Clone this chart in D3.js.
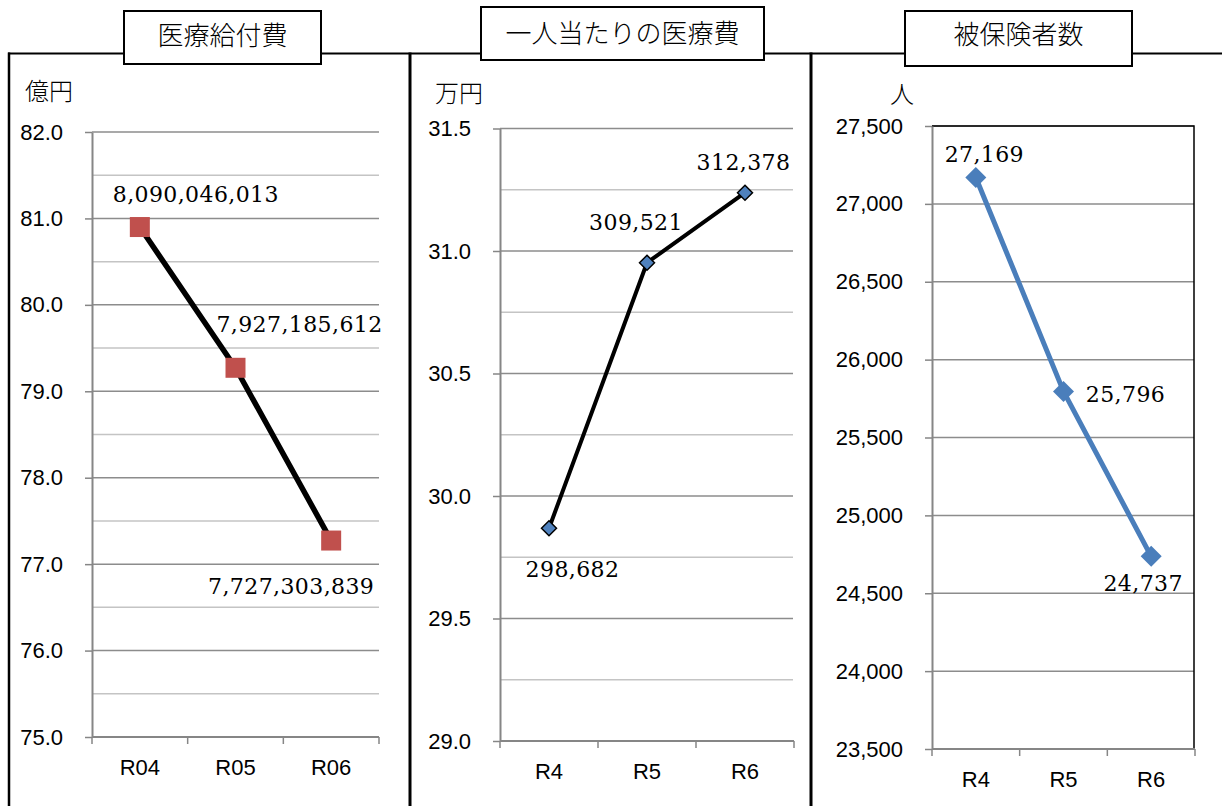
<!DOCTYPE html>
<html>
<head>
<meta charset="utf-8">
<script src="https://cdn.jsdelivr.net/npm/d3@7"></script>
<style>
  html, body { margin: 0; padding: 0; background: #fff; }
  svg { display: block; }
</style>
</head>
<body>
<svg id="chart" width="1222" height="806"></svg>
<script>
// ---- data ----
const fiscalYearsA = ["R04", "R05", "R06"];
const fiscalYearsB = ["R4", "R5", "R6"];

const medicalBenefitYen = [8090046013, 7927185612, 7727303839]; // 医療給付費 (円)
const costPerInsuredYen = [298682, 309521, 312378];             // 一人当たりの医療費 (円)
const insuredPersons = [27169, 25796, 24737];                    // 被保険者数 (人)

const benefitTicks = [75, 76, 77, 78, 79, 80, 81, 82];           // 億円
const benefitMinorTicks = [75.5, 76.5, 77.5, 78.5, 79.5, 80.5, 81.5];
const perInsuredTicks = [29.0, 29.5, 30.0, 30.5, 31.0, 31.5];    // 万円
const perInsuredMinorTicks = [29.25, 29.75, 30.25, 30.75, 31.25];
const insuredTicks = [23500, 24000, 24500, 25000, 25500, 26000, 26500, 27000, 27500];

const panelTitles = ["医療給付費", "一人当たりの医療費", "被保険者数"];
const unitLabels = ["億円", "万円", "人"];

// ---- styling ----
const AXIS_GRAY = "#868686";
const GRID_MAJOR = "#8c8c8c";
const GRID_MINOR = "#c4c4c4";
const SANS = "'Liberation Sans', Arial, sans-serif";
const SERIF = "'DejaVu Serif', 'Liberation Serif', serif";
const CJK = "'Noto Sans CJK JP', 'Noto Sans', sans-serif";

const svg = d3.select("#chart");
const fmt = d3.format(",");

// ---- outer frame ----
const frame = svg.append("g").attr("fill", "none").attr("stroke", "#000");
frame.append("line").attr("x1", 8).attr("x2", 1222).attr("y1", 53.5).attr("y2", 53.5).attr("stroke-width", 2);
frame.append("line").attr("x1", 9).attr("x2", 9).attr("y1", 52.5).attr("y2", 806).attr("stroke-width", 2.5);
frame.append("line").attr("x1", 410).attr("x2", 410).attr("y1", 52.5).attr("y2", 806).attr("stroke-width", 3);
frame.append("line").attr("x1", 811).attr("x2", 811).attr("y1", 52.5).attr("y2", 806).attr("stroke-width", 3);

// ---- panel definitions ----
const panels = [
  {
    title: panelTitles[0], unit: unitLabels[0],
    titleBox: [124, 11, 197, 53], titleY: 33,
    unitX: 25, unitY: 89,
    cats: fiscalYearsA,
    raw: medicalBenefitYen, scaleDiv: 1e8,
    domain: [75, 82], ticks: benefitTicks, minor: benefitMinorTicks,
    tickFmt: d3.format(".1f"),
    xRange: [92, 379], yRange: [737, 132], gridEnd: 379,
    line: { color: "#000", width: 5.5 },
    marker: "square", markerR: 10, markerFill: "#c0504d", markerStroke: null,
    labelOffsets: [[56, -25], [64, -36], [-40, 53]],
    boxed: false
  },
  {
    title: panelTitles[1], unit: unitLabels[1],
    titleBox: [481, 7, 283, 53], titleY: 31,
    unitX: 435, unitY: 91,
    cats: fiscalYearsB,
    raw: costPerInsuredYen, scaleDiv: 1e4,
    domain: [29, 31.5], ticks: perInsuredTicks, minor: perInsuredMinorTicks,
    tickFmt: d3.format(".1f"),
    xRange: [500, 794], yRange: [741, 128.5], gridEnd: 793,
    line: { color: "#000", width: 4 },
    marker: "diamond", markerR: 7.5, markerFill: "#4f81bd", markerStroke: "#000",
    labelOffsets: [[23.5, 49], [-11, -33], [-1.5, -23]],
    boxed: false
  },
  {
    title: panelTitles[2], unit: unitLabels[2],
    titleBox: [905, 11, 227, 55], titleY: 32,
    unitX: 890, unitY: 92,
    cats: fiscalYearsB,
    raw: insuredPersons, scaleDiv: 1,
    domain: [23500, 27500], ticks: insuredTicks, minor: [],
    tickFmt: d3.format(","),
    xRange: [932, 1195], yRange: [749, 126], gridEnd: 1194,
    line: { color: "#4a7ebb", width: 5 },
    marker: "diamond", markerR: 10.5, markerFill: "#4a7ebb", markerStroke: null,
    labelOffsets: [[8.5, -16], [62, 11], [-8, 35]],
    boxed: true
  }
];

panels.forEach(p => {
  const g = svg.append("g");
  const values = p.raw.map(v => v / p.scaleDiv);

  const x = d3.scaleBand().domain(p.cats).range(p.xRange).paddingInner(0).paddingOuter(0);
  const y = d3.scaleLinear().domain(p.domain).range(p.yRange);
  const axisX = p.xRange[0];
  const axisY = p.yRange[0];

  // minor gridlines
  g.append("g").selectAll("line").data(p.minor).join("line")
    .attr("x1", axisX).attr("x2", p.gridEnd)
    .attr("y1", d => y(d)).attr("y2", d => y(d))
    .attr("stroke", GRID_MINOR).attr("stroke-width", 1.5);

  // major gridlines
  g.append("g").selectAll("line").data(p.ticks.filter(t => t !== p.domain[0])).join("line")
    .attr("x1", axisX).attr("x2", p.gridEnd)
    .attr("y1", d => y(d)).attr("y2", d => y(d))
    .attr("stroke", GRID_MAJOR).attr("stroke-width", 1.5);

  // plot-area border (top and right)
  if (p.boxed) {
    g.append("path")
      .attr("d", `M${axisX},${y(p.domain[1])}H${p.gridEnd}V${axisY}`)
      .attr("fill", "none").attr("stroke", "#000").attr("stroke-width", 1.5);
  }

  // y axis
  const yAxis = d3.axisLeft(y).tickValues(p.ticks).tickFormat(p.tickFmt)
    .tickSize(7).tickSizeOuter(0).tickPadding(22);
  const ya = g.append("g").attr("transform", `translate(${axisX},0)`).call(yAxis);
  ya.select(".domain").attr("stroke", AXIS_GRAY).attr("stroke-width", 2);
  ya.selectAll(".tick line").attr("stroke", AXIS_GRAY).attr("stroke-width", 1.5);
  ya.selectAll(".tick text").attr("font-family", SANS).attr("font-size", 22).attr("fill", "#000");

  // x axis: ticks at category boundaries, labels centred in each category
  const xa = g.append("g");
  xa.append("line").attr("x1", p.xRange[0]).attr("x2", p.xRange[1])
    .attr("y1", axisY).attr("y2", axisY).attr("stroke", AXIS_GRAY).attr("stroke-width", 2);
  const edges = p.cats.map(c => x(c)).concat([x(p.cats[p.cats.length - 1]) + x.bandwidth()]);
  xa.selectAll("line.tk").data(edges).join("line").attr("class", "tk")
    .attr("x1", d => d).attr("x2", d => d)
    .attr("y1", axisY).attr("y2", axisY + 7)
    .attr("stroke", AXIS_GRAY).attr("stroke-width", 1.5);
  xa.selectAll("text").data(p.cats).join("text")
    .attr("x", d => x(d) + x.bandwidth() / 2)
    .attr("y", axisY + 30)
    .attr("text-anchor", "middle").attr("dominant-baseline", "central")
    .attr("font-family", SANS).attr("font-size", 22).attr("fill", "#000")
    .text(d => d);

  // series line
  const cx = c => x(c) + x.bandwidth() / 2;
  const pts = p.cats.map((c, i) => [cx(c), y(values[i])]);
  g.append("path").datum(pts)
    .attr("d", d3.line())
    .attr("fill", "none").attr("stroke", p.line.color)
    .attr("stroke-width", p.line.width).attr("stroke-linejoin", "round");

  // markers
  const r = p.markerR;
  const shape = p.marker === "square"
    ? `M${-r},${-r}H${r}V${r}H${-r}Z`
    : `M0,${-r}L${r},0L0,${r}L${-r},0Z`;
  g.append("g").selectAll("path").data(pts).join("path")
    .attr("transform", d => `translate(${d[0]},${d[1]})`)
    .attr("d", shape)
    .attr("fill", p.markerFill)
    .attr("stroke", p.markerStroke || "none")
    .attr("stroke-width", p.markerStroke ? 1.5 : 0);

  // value labels
  g.append("g").selectAll("text").data(p.raw).join("text")
    .attr("x", (d, i) => pts[i][0] + p.labelOffsets[i][0])
    .attr("y", (d, i) => pts[i][1] + p.labelOffsets[i][1])
    .attr("text-anchor", "middle")
    .attr("font-family", SERIF).attr("font-size", 22)
    .attr("letter-spacing", 0.4).attr("fill", "#000")
    .text(d => fmt(d));

  // unit label
  svg.append("text")
    .attr("x", p.unitX).attr("y", p.unitY)
    .attr("dominant-baseline", "central")
    .attr("font-family", CJK).attr("font-size", 24).attr("font-weight", 300).attr("fill", "#000")
    .text(p.unit);

  // title box
  const [bx, by, bw, bh] = p.titleBox;
  svg.append("rect").attr("x", bx).attr("y", by).attr("width", bw).attr("height", bh)
    .attr("fill", "#fff").attr("stroke", "#000").attr("stroke-width", 2);
  svg.append("text")
    .attr("x", bx + bw / 2).attr("y", p.titleY)
    .attr("text-anchor", "middle").attr("dominant-baseline", "central")
    .attr("font-family", CJK).attr("font-size", 26).attr("font-weight", 300).attr("fill", "#000")
    .text(p.title);
});
</script>
</body>
</html>
